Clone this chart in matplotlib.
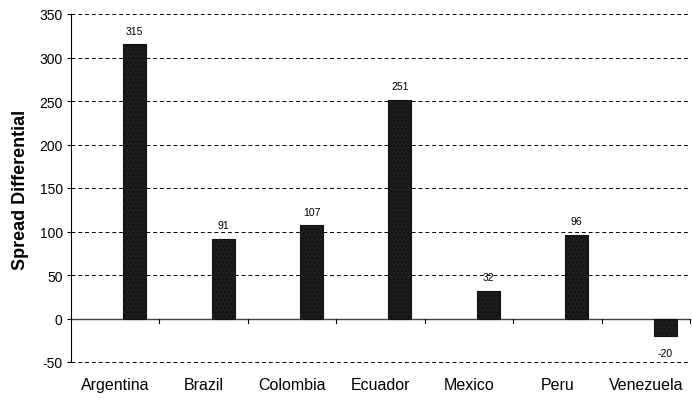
import matplotlib
matplotlib.use("Agg")
import matplotlib.pyplot as plt
import numpy as np

countries = ["Argentina", "Brazil", "Colombia", "Ecuador", "Mexico", "Peru", "Venezuela"]
spread = [315, 91, 107, 251, 32, 96, -20]
yticks = [-50, 0, 50, 100, 150, 200, 250, 300, 350]

plt.rcParams['font.family'] = ['Liberation Sans', 'DejaVu Sans']
plt.rcParams['hatch.color'] = '#555555'

fig = plt.figure(figsize=(6.92, 4.02), dpi=100)
ax = fig.add_axes([71/692, (402-363)/402, (690-71)/692, (363-15)/402])

x = np.arange(len(countries))
bar_w = 0.26
bar_x = x + 0.22
ax.bar(bar_x, spread, width=bar_w, color='#1c1c1c', edgecolor='#111111',
       linewidth=0.8, hatch='....', zorder=3)

for xi, v in zip(bar_x, spread):
    off = 10 if v >= 0 else -12
    ax.annotate(str(v), (xi, v), xytext=(0, off), textcoords='offset points',
                ha='center', va='center', fontsize=7.5, zorder=4)

ax.set_xlim(-0.5, len(countries) - 0.5)
ax.set_ylim(-50, 350)
ax.set_yticks(yticks)
ax.set_yticklabels([str(t) for t in yticks], fontsize=10)
ax.set_xticks(x)
ax.set_xticklabels(countries, fontsize=11.5)
ax.tick_params(axis='x', length=0, pad=11)
ax.tick_params(axis='y', length=3, width=0.8, pad=3, direction='out')

for t in yticks:
    if t != 0:
        ax.axhline(t, color='black', lw=0.7, ls=(0, (4, 3)), zorder=1, clip_on=False)
ax.axhline(0, color='#444444', lw=1.0, zorder=2)
for b in np.arange(0.5, len(countries), 1.0):
    ax.plot([b, b], [0, -5], color='black', lw=0.8, zorder=2, clip_on=False)

for s in ['top', 'right', 'bottom']:
    ax.spines[s].set_visible(False)
ax.spines['left'].set_linewidth(0.8)

ax.set_ylabel("Spread Differential", fontsize=13, fontweight='bold')
ax.yaxis.set_label_coords(-42/619, (402-190-39)/348)

fig.savefig("out.png", dpi=100)
